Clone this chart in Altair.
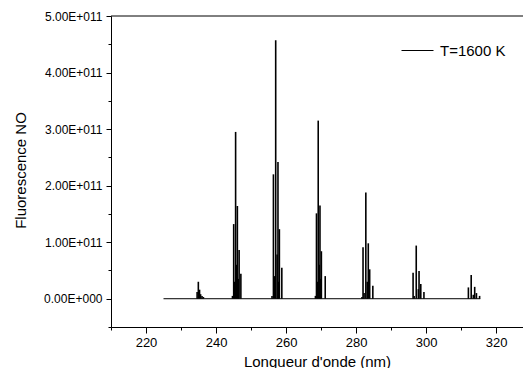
import altair as alt
import pandas as pd

series_name = "T=1600 K"

# Emission lines: wavelength (nm) and intensity
peak_nm = [
    234.6, 234.95, 235.3, 235.6, 236.0, 236.4,
    244.7, 245.05, 245.3, 245.6, 245.85, 246.1, 246.35, 246.6, 247.1,
    256.0, 256.4, 256.75, 257.05, 257.45, 257.7, 257.9, 258.1, 258.8,
    268.4, 268.7, 269.0, 269.2, 269.5, 269.7, 269.9, 270.1, 271.2,
    281.7, 282.0, 282.3, 282.8, 283.2, 283.5, 283.9, 284.8,
    296.3, 296.6, 297.2, 297.8, 298.0, 298.5, 299.4,
    312.1, 312.9, 313.5, 313.9, 314.4, 315.3,
]
peak_val = [
    0.12e11, 0.30e11, 0.16e11, 0.08e11, 0.05e11, 0.03e11,
    0.05e11, 1.32e11, 0.30e11, 2.95e11, 0.60e11, 1.64e11, 0.35e11, 0.86e11, 0.44e11,
    0.05e11, 2.20e11, 0.40e11, 4.57e11, 0.78e11, 2.42e11, 0.30e11, 1.23e11, 0.55e11,
    0.05e11, 1.51e11, 0.30e11, 3.15e11, 0.60e11, 1.65e11, 0.35e11, 0.84e11, 0.40e11,
    0.03e11, 0.91e11, 0.10e11, 1.88e11, 0.30e11, 0.98e11, 0.52e11, 0.23e11,
    0.46e11, 0.05e11, 0.94e11, 0.17e11, 0.49e11, 0.26e11, 0.12e11,
    0.20e11, 0.42e11, 0.07e11, 0.21e11, 0.10e11, 0.05e11,
]

baseline_nm = [225.0, 315.5]
baseline_val = [0.0, 0.0]

x_domain = [210, 327.7]
y_domain = [-0.5e11, 5.0e11]
x_major = [220, 240, 260, 280, 300, 320]
x_minor = [210, 230, 250, 270, 290, 310]
y_major = [0.0, 1e11, 2e11, 3e11, 4e11, 5e11]
y_minor = [-0.5e11, 0.5e11, 1.5e11, 2.5e11, 3.5e11, 4.5e11]
top_value = 5e11

peaks = pd.DataFrame({"nm": peak_nm, "val": peak_val, "series": [series_name] * len(peak_nm)})
base = pd.DataFrame({"nm": baseline_nm, "val": baseline_val})

FONT = "Liberation Sans"
xscale = alt.Scale(domain=x_domain, nice=False, zero=False)
yscale = alt.Scale(domain=y_domain, nice=False, zero=False)

ylabel_expr = ("datum.value == 0 ? '0.00E+000' : "
               "format(datum.value / 1e11, '.2f') + 'E+011'")

spikes = alt.Chart(peaks).mark_rule(strokeWidth=1.6).encode(
    x=alt.X("nm:Q", scale=xscale, axis=alt.Axis(
        values=x_major, orient="bottom", title="Longueur d'onde (nm)",
        tickSize=6, labelPadding=3, labelFontSize=13, labelFlush=False,
        titleFontSize=15, titleY=39, titleBaseline="alphabetic")),
    y=alt.Y("val:Q", scale=yscale, axis=alt.Axis(
        values=y_major, orient="left", labelExpr=ylabel_expr, title="Fluorescence NO",
        tickSize=5, labelPadding=4, labelFontSize=12, labelFlush=False,
        titleFontSize=15, titleAngle=270, titleX=-91, titleY=154,
        titleBaseline="middle", titleAlign="center")),
    y2=alt.datum(0),
    color=alt.Color("series:N", scale=alt.Scale(range=["black"]), legend=alt.Legend(
        title=None, orient="none", legendX=290, legendY=18, symbolType="stroke",
        symbolSize=1024, symbolStrokeWidth=1, labelFontSize=15, labelFont=FONT,
        labelOffset=6, padding=0, labelColor="black")),
)

baseline = alt.Chart(base).mark_line(color="black", strokeWidth=1).encode(
    x=alt.X("nm:Q", scale=xscale, axis=alt.Axis(
        values=x_minor, orient="bottom", tickSize=3, labels=False, domain=False, title=None)),
    y=alt.Y("val:Q", scale=yscale, axis=alt.Axis(
        values=y_minor, orient="left", tickSize=3, labels=False, domain=False, title=None)),
)

top_line = alt.Chart(pd.DataFrame({"v": [top_value]})).mark_rule(color="black", strokeWidth=1).encode(
    y=alt.Y("v:Q", scale=yscale, axis=None),
)

chart = alt.layer(spikes, baseline, top_line).resolve_axis(
    x="independent", y="independent"
).properties(
    width=412, height=311,
    padding={"left": 103, "top": 8, "right": 0, "bottom": 41},
    autosize=alt.AutoSizeParams(type="none"),
).configure_view(stroke=None).configure_axis(
    grid=False, domainColor="black", tickColor="black", labelColor="black",
    titleColor="black", labelFont=FONT, titleFont=FONT, titleFontWeight="normal",
    domainWidth=1, tickWidth=1, labelOverlap=False,
)

chart.save("out.html", embed_options={"renderer": "svg", "actions": False})
